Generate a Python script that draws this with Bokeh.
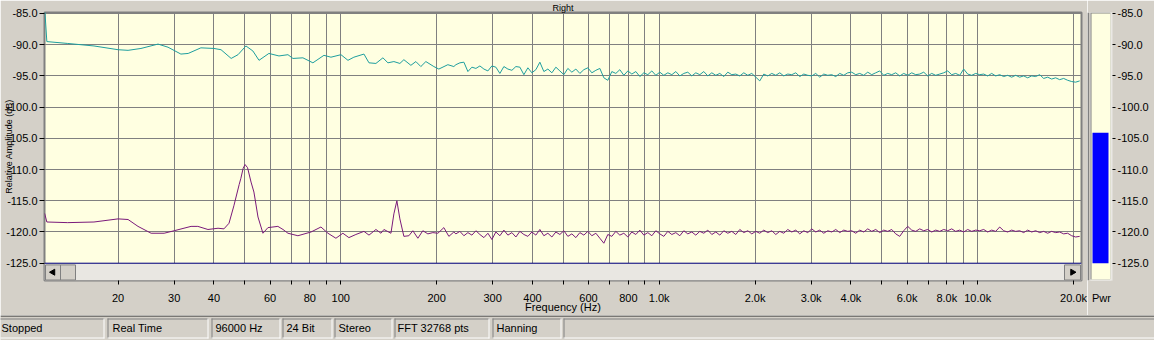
import numpy as np
from bokeh.plotting import figure
from bokeh.models import Range1d, FixedTicker, PrintfTickFormatter, Span
from bokeh.layouts import column, row
from bokeh.embed import file_html
from bokeh.resources import INLINE
from bokeh.core.properties import value

# ---------------- data ----------------
cyan_lo_freq = [11.76, 11.95, 13.9, 16.8, 20.0, 21.5, 23.6, 26.7, 28.7, 31.5, 33.2, 36.4, 40.0, 42.1,
                45.3, 47.6, 50.4, 53.0, 55.4, 59.5, 64.0, 68.3, 70.8, 76.1, 81.8, 88.6, 93.2, 100.2,
                105.4, 110.0, 118.3, 122.7, 129.0, 135.7, 140.7, 146.9, 153.4, 157.9, 166.1, 172.2,
                178.5, 185.1, 196.1, 203.3, 217.0, 226.6]
cyan_lo_db = [-84.0, -89.5, -89.8, -90.2, -90.8, -90.9, -90.6, -89.9, -90.4, -91.5, -91.4, -90.5, -90.6, -90.8,
              -92.2, -91.6, -90.2, -91.0, -92.5, -91.4, -91.8, -91.6, -92.2, -92.1, -92.9, -91.7, -92.0, -91.6,
              -92.5, -92.0, -91.5, -92.9, -93.0, -92.1, -92.9, -92.7, -93.0, -92.4, -93.3, -92.7,
              -93.5, -92.7, -93.5, -93.9, -93.2, -93.5]
cyan_hi_db = [-93.2, -92.9, -92.8, -94.3, -93.6, -93.8, -93.4, -93.9, -94.2, -93.4, -93.6, -94.6, -93.5, -93.9,
              -94.1, -93.5, -93.6, -94.8, -93.7, -94.5, -94.0, -92.8, -94.3, -93.9, -94.5, -93.6, -94.2, -94.8,
              -93.8, -94.4, -93.9, -94.6, -94.0, -93.7, -94.5, -94.1, -93.8, -95.3, -95.7, -94.3, -94.6, -94.0,
              -94.9, -94.2, -94.7, -94.3, -95.1, -94.5, -94.8, -94.2, -94.9, -94.4, -94.9, -94.5, -94.8, -94.3,
              -95.0, -94.6, -94.4, -95.0, -94.5, -94.8, -94.3, -95.0, -94.5, -94.9, -94.6, -95.1, -94.4, -94.8,
              -94.7, -95.0, -94.5, -94.9, -94.6, -95.2, -95.8, -94.7, -95.0, -94.6, -94.9, -94.5, -95.0, -94.7,
              -94.8, -94.5, -95.1, -94.7, -94.9, -95.0, -94.6, -95.2, -94.7, -94.9, -94.8, -95.1, -94.6, -94.9,
              -94.5, -94.4, -94.8, -94.6, -94.9, -94.4, -94.8, -94.5, -94.2, -94.9, -94.6, -94.8, -94.5, -95.0,
              -94.6, -94.9, -94.5, -94.8, -94.7, -94.4, -95.0, -94.6, -94.9, -94.7, -94.5, -94.2, -94.8, -94.6,
              -94.9, -93.9, -94.7, -94.9, -94.6, -94.8, -94.7, -95.0, -94.6, -95.0, -94.8, -95.1, -94.9, -95.2,
              -94.9, -95.2, -95.0, -95.3, -95.0, -95.1, -94.8, -95.4, -95.2, -95.5, -95.3, -95.6, -95.4, -95.7,
              -95.9, -96.0, -95.8]

purple_lo_freq = [11.76, 11.95, 13.9, 16.8, 20.0, 21.5, 23.1, 25.4, 27.9, 30.0, 33.9, 35.6, 38.3, 41.2,
                  43.0, 44.6, 46.2, 48.0, 48.6, 49.4, 50.1, 51.0, 52.3, 53.4, 55.0, 57.0, 59.1, 63.5, 65.9,
                  68.3, 73.4, 80.7, 86.7, 91.2, 96.6, 101.6, 106.1, 111.6, 118.3, 122.7, 129.0, 133.8,
                  136.7, 143.8, 146.9, 150.1, 153.4, 157.9, 163.7, 168.5, 174.7, 181.1, 187.8, 194.7,
                  201.9, 210.8, 218.6, 226.6]
purple_lo_db = [-117.0, -118.4, -118.5, -118.4, -117.9, -118.0, -119.1, -120.2, -120.2, -119.8, -119.1, -119.1,
                -119.6, -119.4, -119.5, -118.6, -115.8, -112.4, -111.4, -109.8, -109.2, -109.7, -112.0, -113.6,
                -117.6, -120.2, -119.3, -119.1, -119.6, -120.2, -120.6, -120.0, -119.2, -120.2, -121.0, -120.2,
                -120.9, -120.4, -119.9, -120.5, -119.6, -120.2, -119.6, -120.2, -117.1, -115.0, -117.9, -120.7,
                -120.6, -119.8, -121.0, -119.8, -120.3, -120.1, -120.2, -119.3, -120.7, -120.0]
purple_hi_db = [-120.3, -119.9, -120.6, -120.1, -120.5, -119.8, -120.4, -120.9, -120.2, -121.2, -120.0, -120.6,
                -119.7, -120.5, -120.1, -120.8, -119.9, -120.4, -120.7, -120.0, -120.5, -119.6, -120.6, -120.2,
                -120.8, -120.0, -120.4, -119.8, -120.7, -120.3, -120.9, -120.1, -120.5, -119.9, -120.6, -120.2,
                -121.0, -121.8, -120.4, -120.7, -119.9, -120.5, -120.2, -120.8, -120.0, -120.4, -119.7, -120.5,
                -120.1, -120.6, -119.8, -120.3, -120.7, -119.9, -120.4, -120.1, -120.6, -119.8, -120.3, -120.0,
                -120.5, -119.9, -120.2, -119.7, -120.4, -120.0, -120.5, -119.8, -120.2, -119.9, -120.4, -119.6,
                -120.1, -119.8, -120.3, -119.9, -120.2, -119.7, -120.1, -119.8, -120.4, -119.9, -120.2, -119.6,
                -120.0, -119.7, -120.3, -119.8, -120.1, -119.5, -120.0, -119.7, -120.2, -119.8, -120.0, -119.6,
                -120.1, -119.7, -119.9, -119.8, -120.2, -119.7, -120.0, -119.5, -119.9, -119.6, -120.1, -119.7,
                -119.9, -119.6, -120.3, -120.7, -119.8, -119.1, -119.7, -119.9, -119.5, -119.8, -119.6, -120.0,
                -119.7, -119.9, -119.6, -119.8, -119.5, -119.9, -119.7, -120.0, -119.6, -119.9, -119.7, -119.8,
                -119.6, -120.0, -119.7, -119.9, -119.2, -119.8, -120.0, -119.7, -119.9, -119.8, -120.1, -119.7,
                -120.0, -119.8, -120.1, -119.9, -120.2, -119.9, -120.1, -120.0, -120.3, -120.2, -120.6, -120.8,
                -120.7]
hi_freq_start, hi_freq_end = 230.0, 20900.0

x_ticks = [20, 30, 40, 50, 60, 70, 80, 90, 100, 200, 300, 400, 500, 600, 700, 800, 900,
           1000, 2000, 3000, 4000, 5000, 6000, 7000, 8000, 9000, 10000, 20000]
x_tick_labels = ["20", "30", "40", "", "60", "", "80", "", "100", "200", "300", "400", "", "600", "",
                 "800", "", "1.0k", "2.0k", "3.0k", "4.0k", "", "6.0k", "", "8.0k", "", "10.0k", "20.0k"]
y_ticks = [-125, -120, -115, -110, -105, -100, -95, -90, -85]
meter_level = -104.1
status_texts = ["Stopped", "Real Time", "96000 Hz", "24 Bit", "Stereo", "FFT 32768 pts", "Hanning"]

# ---------------- styling ----------------
FONT = "Liberation Sans"
BG = "#D4D0C8"
PLOT_BG = "#FFFFE1"
GRID = "#808080"
X0, X1 = 11.75, 21180.0
Y0, Y1 = -127.77, -84.84


def fpx(px):
    # frequency at a horizontal pixel of the page (frame spans px 44..1081)
    return X0 * (X1 / X0) ** ((px - 44) / 1037.0)


def dbpx(py):
    # dB at a vertical pixel of the page (frame spans py 10..285)
    return Y1 - (py - 10) * (Y1 - Y0) / 275.0


p = figure(width=1087, height=315, x_axis_type="log",
           x_range=Range1d(X0, X1), y_range=Range1d(Y0, Y1),
           output_backend="svg", toolbar_location=None,
           min_border_left=44, min_border_right=6, min_border_top=10, min_border_bottom=30)
p.background_fill_color = PLOT_BG
p.border_fill_color = BG
p.outline_line_color = "#808080"
p.outline_line_width = 2

p.title.text = "Right"
p.title.align = "center"
p.title.text_font = FONT
p.title.text_font_size = "9px"
p.title.text_font_style = "normal"
p.title.text_color = "black"
p.title.standoff = 0

xt = FixedTicker(ticks=x_ticks, minor_ticks=[])
yt = FixedTicker(ticks=y_ticks, minor_ticks=[])
p.xaxis.ticker = xt
p.yaxis.ticker = yt
p.xgrid.ticker = xt
p.ygrid.ticker = yt
for g in (p.xgrid, p.ygrid):
    g.grid_line_color = GRID
    g.grid_line_width = 1
    g.grid_line_alpha = 1.0

p.xaxis.major_label_overrides = {t: l for t, l in zip(x_ticks, x_tick_labels)}
p.yaxis.formatter = PrintfTickFormatter(format="%.1f")
for ax in (p.xaxis, p.yaxis):
    ax.axis_line_color = None
    ax.major_tick_line_color = "black"
    ax.minor_tick_line_color = None
    ax.major_tick_in = 0
    ax.major_label_text_font = FONT
    ax.major_label_text_font_size = "11px"
    ax.major_label_text_color = "black"
    ax.axis_label_text_font = FONT
    ax.axis_label_text_font_style = "normal"
    ax.axis_label_text_color = "black"
p.yaxis.major_tick_out = 5
p.yaxis.major_label_standoff = 2
p.yaxis.axis_label = "Relative Amplitude (dB)"
p.yaxis.axis_label_text_font_size = "9px"
p.yaxis.axis_label_standoff = -11
p.xaxis.major_tick_out = 4
p.xaxis.major_label_standoff = 7
p.xaxis.axis_label = "Frequency (Hz)"
p.xaxis.axis_label_text_font_size = "11px"
p.xaxis.axis_label_standoff = -6

# curves
cy_x = cyan_lo_freq + list(np.geomspace(hi_freq_start, hi_freq_end, len(cyan_hi_db)))
cy_y = cyan_lo_db + cyan_hi_db
pu_x = purple_lo_freq + list(np.geomspace(hi_freq_start, hi_freq_end, len(purple_hi_db)))
pu_y = purple_lo_db + purple_hi_db
p.line(cy_x, cy_y, line_color="#1E9E9E", line_width=1)
p.line(pu_x, pu_y, line_color="#7A1A7A", line_width=1)

# scrollbar strip under the -125 dB line
p.quad(left=[X0], right=[X1], bottom=[Y0], top=[-125.0], fill_color="#E9E7E2", line_color=None)
p.quad(left=[fpx(45), fpx(60), fpx(1064)], right=[fpx(60), fpx(75), fpx(1080)],
       bottom=[dbpx(284.5)] * 3, top=[dbpx(269)] * 3, fill_color=BG, line_color="#808080", line_width=1)
p.scatter([fpx(52.5)], [dbpx(276.5)], marker="triangle", angle=np.pi / 2, size=6,
          fill_color="black", line_color="black")
p.scatter([fpx(1072)], [dbpx(276.5)], marker="triangle", angle=-np.pi / 2, size=6,
          fill_color="black", line_color="black")
p.add_layout(Span(location=-125.0, dimension="width", line_color="#000080", line_width=1))

# ---------------- power meter ----------------
m = figure(width=67, height=315, x_range=Range1d(0, 25), y_range=Range1d(Y0, Y1),
           y_axis_location="right", output_backend="svg", toolbar_location=None,
           min_border_left=0, min_border_right=42, min_border_top=10, min_border_bottom=30)
m.background_fill_color = BG
m.border_fill_color = BG
m.outline_line_color = None
m.grid.visible = False
m.yaxis.ticker = FixedTicker(ticks=y_ticks, minor_ticks=[])
m.yaxis.formatter = PrintfTickFormatter(format="%.1f")
m.xaxis.ticker = FixedTicker(ticks=[14], minor_ticks=[])
m.xaxis.major_label_overrides = {14: "Pwr"}
m.xaxis.major_tick_line_color = None
m.xaxis.major_label_standoff = 7
m.yaxis.major_label_standoff = 2
for ax in (m.xaxis, m.yaxis):
    ax.axis_line_color = None
    ax.minor_tick_line_color = None
    ax.major_tick_in = 0
    ax.major_label_text_font = FONT
    ax.major_label_text_font_size = "11px"
    ax.major_label_text_color = "black"
m.xaxis.major_tick_out = 4
m.yaxis.major_tick_out = 3
m.yaxis.major_tick_line_color = "black"

px_db = (Y1 - Y0) / 275.0
m.quad(left=[0], right=[1.6], bottom=[Y0], top=[Y1], fill_color="#808080", line_color=None)
m.quad(left=[3], right=[24], bottom=[Y0], top=[Y1], fill_color="white", line_color=None)
m.quad(left=[3], right=[23], bottom=[Y0 + px_db], top=[Y1], fill_color="#808080", line_color=None)
m.quad(left=[4], right=[23], bottom=[Y0 + px_db], top=[Y1 - px_db], fill_color=PLOT_BG, line_color=None)
m.quad(left=[5], right=[21], bottom=[-125.0], top=[meter_level], fill_color="#0000FF", line_color=None)

# ---------------- status bar ----------------
s = figure(width=1154, height=25, x_range=Range1d(0, 1154), y_range=Range1d(340, 315),
           x_axis_location=None, y_axis_location=None, output_backend="svg", toolbar_location=None,
           min_border=0)
s.background_fill_color = BG
s.border_fill_color = BG
s.outline_line_color = None
s.grid.visible = False
s.segment(x0=[0], x1=[1154], y0=[315.5], y1=[315.5], line_color="#202020", line_width=1)
panels = [(-20, 104), (107, 208), (211, 280), (282, 332), (334, 392), (394, 489), (492, 561), (563, 1160)]
for a, b in panels:
    s.segment(x0=[a, a + 0.5], x1=[b, a + 0.5], y0=[318.5, 318], y1=[318.5, 338], line_color="#808080")
    s.segment(x0=[b - 0.5, a], x1=[b - 0.5, b], y0=[318, 337.5], y1=[338, 337.5], line_color="white")
s.text(x=[1, 112, 215, 286, 338, 397, 496], y=[327.5] * 7, text=status_texts,
       text_font=value(FONT), text_font_size="11px", text_baseline="middle", text_align="left",
       text_color="black")

layout = column(row(p, m), s)
open("out.html", "w").write(file_html(layout, INLINE))
